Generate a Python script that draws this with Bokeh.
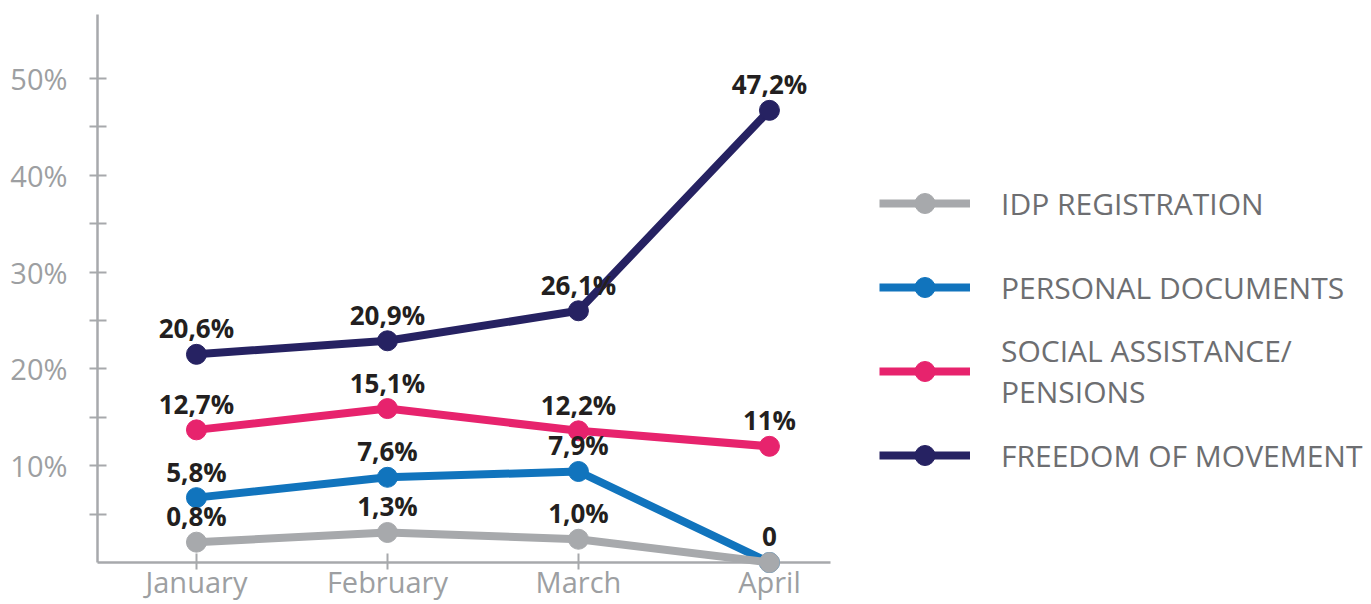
from bokeh.plotting import figure
from bokeh.models import FixedTicker, Legend, LegendItem, ColumnDataSource
from bokeh.core.properties import value
from bokeh.embed import file_html
from bokeh.resources import INLINE

# ---- data ----
months = ["January", "February", "March", "April"]
series_names = ["IDP REGISTRATION", "PERSONAL DOCUMENTS",
                "SOCIAL ASSISTANCE/\nPENSIONS", "FREEDOM OF MOVEMENT"]
series_colors = ["#A7A9AC", "#1174BD", "#E7236D", "#262262"]

idp_values = [2.1, 3.1, 2.4, 0.0]
idp_labels = ["0,8%", "1,3%", "1,0%", "0"]
personal_values = [6.7, 8.8, 9.4, 0.0]
personal_labels = ["5,8%", "7,6%", "7,9%", ""]
social_values = [13.7, 15.9, 13.6, 12.0]
social_labels = ["12,7%", "15,1%", "12,2%", "11%"]
freedom_values = [21.5, 22.9, 26.0, 46.7]
freedom_labels = ["20,6%", "20,9%", "26,1%", "47,2%"]

y_ticks = [10, 20, 30, 40, 50]
y_minor_ticks = [5, 15, 25, 35, 45]
y_tick_labels = ["10%", "20%", "30%", "40%", "50%"]

all_values = [idp_values, personal_values, social_values, freedom_values]
all_labels = [idp_labels, personal_labels, social_labels, freedom_labels]

FONT = "Open Sans"
AXIS_COLOR = "#A7A9AC"
TICK_TEXT = "#9D9FA2"

X_START, X_AXIS_END = -0.518, 3.319
p = figure(width=1371, height=604, output_backend="svg", toolbar_location=None,
           x_range=(X_START, 6.152), y_range=(0, 56.6),
           min_border_left=97, min_border_top=14, min_border_right=0,
           min_border_bottom=42)
p.outline_line_color = None
p.grid.visible = False
p.background_fill_color = "white"
p.border_fill_color = "white"

xs = list(range(len(months)))

# axes
p.xaxis.ticker = FixedTicker(ticks=xs)
p.xaxis.bounds = (X_START, X_AXIS_END)
p.xaxis.major_label_overrides = {i: m for i, m in enumerate(months)}
p.yaxis.ticker = FixedTicker(ticks=y_ticks, minor_ticks=y_minor_ticks)
p.yaxis.major_label_overrides = {t: l for t, l in zip(y_ticks, y_tick_labels)}
for ax in (p.xaxis, p.yaxis):
    ax.axis_line_color = AXIS_COLOR
    ax.axis_line_width = 2.5
    ax.major_tick_line_color = AXIS_COLOR
    ax.major_tick_line_width = 2
    ax.minor_tick_line_color = AXIS_COLOR
    ax.minor_tick_line_width = 2
    ax.major_label_text_font = FONT
    ax.major_label_text_font_size = "29px"
    ax.major_label_text_color = TICK_TEXT
p.xaxis.minor_tick_line_color = None
p.xaxis.major_tick_in = 9
p.xaxis.major_tick_out = 7
p.xaxis.major_label_standoff = -8
p.yaxis.major_tick_in = 9
p.yaxis.major_tick_out = 8
p.yaxis.minor_tick_in = 9
p.yaxis.minor_tick_out = 8
p.yaxis.major_label_standoff = 22

# lines + markers: draw FREEDOM first so IDP ends up on top
rend = {}
for i in reversed(range(len(series_names))):
    src = ColumnDataSource(dict(x=xs, y=all_values[i]))
    col = series_colors[i]
    lr = p.line("x", "y", source=src, line_color=col, line_width=8, level="overlay")
    sr = p.scatter("x", "y", source=src, size=20, fill_color=col, line_color=col,
                   level="overlay")
    rend[i] = (lr, sr)

items = [LegendItem(label=series_names[i], renderers=list(rend[i]))
         for i in range(len(series_names))]

for vals, labs in zip(all_values, all_labels):
    src = ColumnDataSource(dict(x=xs, y=vals, lab=labs))
    p.text("x", "y", text="lab", source=src, text_align="center",
           text_baseline="alphabetic", y_offset=-26,
           text_font=value(FONT), text_font_style="bold",
           text_font_size="26px", text_color="#231F20", level="overlay")

legend = Legend(items=items, location=(782, 66), orientation="vertical",
                glyph_width=91, glyph_height=50, label_height=82,
                label_standoff=31, spacing=2, padding=0, margin=0,
                border_line_color=None, background_fill_alpha=0,
                label_text_font=FONT, label_text_font_size="30px",
                label_text_color="#6D6E71", label_text_line_height=0.9)
p.add_layout(legend, "center")

open("out.html", "w").write(file_html(p, INLINE))
